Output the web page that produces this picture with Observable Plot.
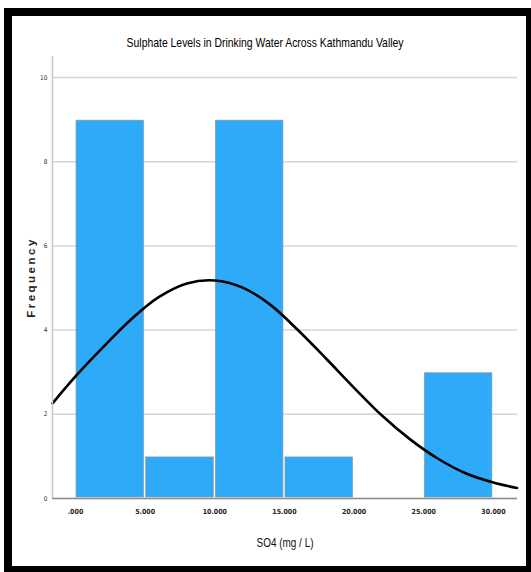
<!DOCTYPE html>
<html>
<head>
<meta charset="utf-8">
<script src="https://cdn.jsdelivr.net/npm/d3@7"></script>
<script src="https://cdn.jsdelivr.net/npm/@observablehq/plot@0.6"></script>
<style>
  html, body { margin: 0; padding: 0; background: #fff; }
  #wrap { position: relative; width: 531px; height: 572px; overflow: hidden; }
  #frame { position: absolute; left: 4px; top: 8px; width: 514px; height: 550px;
           border-style: solid; border-color: #000; border-width: 8px 5px 6px 8px; background: #fff; }
  #title { position: absolute; left: 0; width: 531px; top: 33px; text-align: center; }
  #title span { display: inline-block; transform: scaleX(0.8); transform-origin: 50% 50%;
           font-family: "Liberation Sans", Arial, sans-serif; font-size: 13px; color: #000; white-space: nowrap; }
  #chart { position: absolute; left: 0; top: 0; }
</style>
</head>
<body>
<div id="wrap">
  <div id="frame"></div>
  <div id="chart"></div>
  <div id="title"><span>Sulphate Levels in Drinking Water Across Kathmandu Valley</span></div>
</div>
<script>
// Histogram bins (SO4 mg/L) and frequencies
const binStart = [0, 5, 10, 15, 20, 25];
const binEnd   = [5, 10, 15, 20, 25, 30];
const freq     = [9, 1, 9, 1, 0, 3];

// Normal curve points
const curveX = [-1.65, 0, 2, 4, 6, 8, 10, 12, 14, 16, 18, 20, 22, 24, 26, 28, 30, 31.7];
const curveY = [2.26, 2.9, 3.6, 4.26, 4.79, 5.11, 5.18, 5.01, 4.6, 3.99, 3.32, 2.63, 1.97, 1.41, 0.95, 0.6, 0.38, 0.25];

const xTicks = [0, 5, 10, 15, 20, 25, 30];
const xTickLabels = [".000", "5.000", "10.000", "15.000", "20.000", "25.000", "30.000"];
const yTicks = [0, 2, 4, 6, 8, 10];

const bins = binStart.map((s, i) => ({x1: s, x2: binEnd[i], y: freq[i]})).filter(d => d.y > 0);
const curve = curveX.map((x, i) => ({x, y: curveY[i]}));

const narrow = '"Liberation Sans Narrow", "DejaVu Sans Condensed", sans-serif';

const plot = Plot.plot({
  width: 531,
  height: 572,
  marginLeft: 52,
  marginRight: 14,
  marginTop: 56,
  marginBottom: 74,
  style: { background: "transparent", fontFamily: narrow, overflow: "visible" },
  x: { domain: [-1.65, 31.73] },
  y: { domain: [0, 10.5] },
  marks: [
    Plot.gridY(yTicks, { stroke: "#d4d4d4", strokeOpacity: 1, strokeWidth: 1.5 }),
    Plot.rectY(bins, { x1: "x1", x2: "x2", y: "y", fill: "#2eaaf8", stroke: "#8a9aa8", strokeWidth: 0.6, inset: 1 }),
    Plot.line(curve, { x: "x", y: "y", curve: "catmull-rom", stroke: "#000", strokeWidth: 2.6 }),
    Plot.ruleX([-1.65], { stroke: "#c8c8c8", strokeWidth: 1.5 }),
    Plot.ruleY([0], { stroke: "#8c8c8c", strokeWidth: 1.5 }),
    Plot.axisY(yTicks, {
      tickSize: 0, tickPadding: 5, fontSize: 6.5, fill: "#333",
      label: "Frequency", labelAnchor: "center", labelArrow: "none", labelOffset: 26
    }),
    Plot.axisX(xTicks, {
      tickSize: 0, tickPadding: 11, fontSize: 7, fontWeight: "bold", fill: "#222",
      tickFormat: (d) => xTickLabels[xTicks.indexOf(d)],
      label: "SO4 (mg / L)", labelAnchor: "center", labelArrow: "none", labelOffset: 48
    })
  ]
});

// Style the axis labels to match the reference look
plot.querySelectorAll('g[aria-label="y-axis label"] text').forEach(t => {
  t.setAttribute("font-size", "11.5");
  t.setAttribute("font-weight", "bold");
  t.setAttribute("font-family", "Liberation Sans, Arial, sans-serif");
  t.setAttribute("letter-spacing", "2.5");
  t.setAttribute("fill", "#222");
});
plot.querySelectorAll('g[aria-label="x-axis label"]').forEach(g => g.setAttribute("font-weight", "normal"));
plot.querySelectorAll('g[aria-label="x-axis label"] text').forEach(t => {
  t.setAttribute("font-size", "13");
  t.setAttribute("font-weight", "normal");
  t.setAttribute("font-family", "Liberation Sans, Arial, sans-serif");
  t.setAttribute("textLength", "57");
  t.setAttribute("lengthAdjust", "spacingAndGlyphs");
  t.setAttribute("fill", "#111");
});
document.getElementById("chart").appendChild(plot);
</script>
</body>
</html>
